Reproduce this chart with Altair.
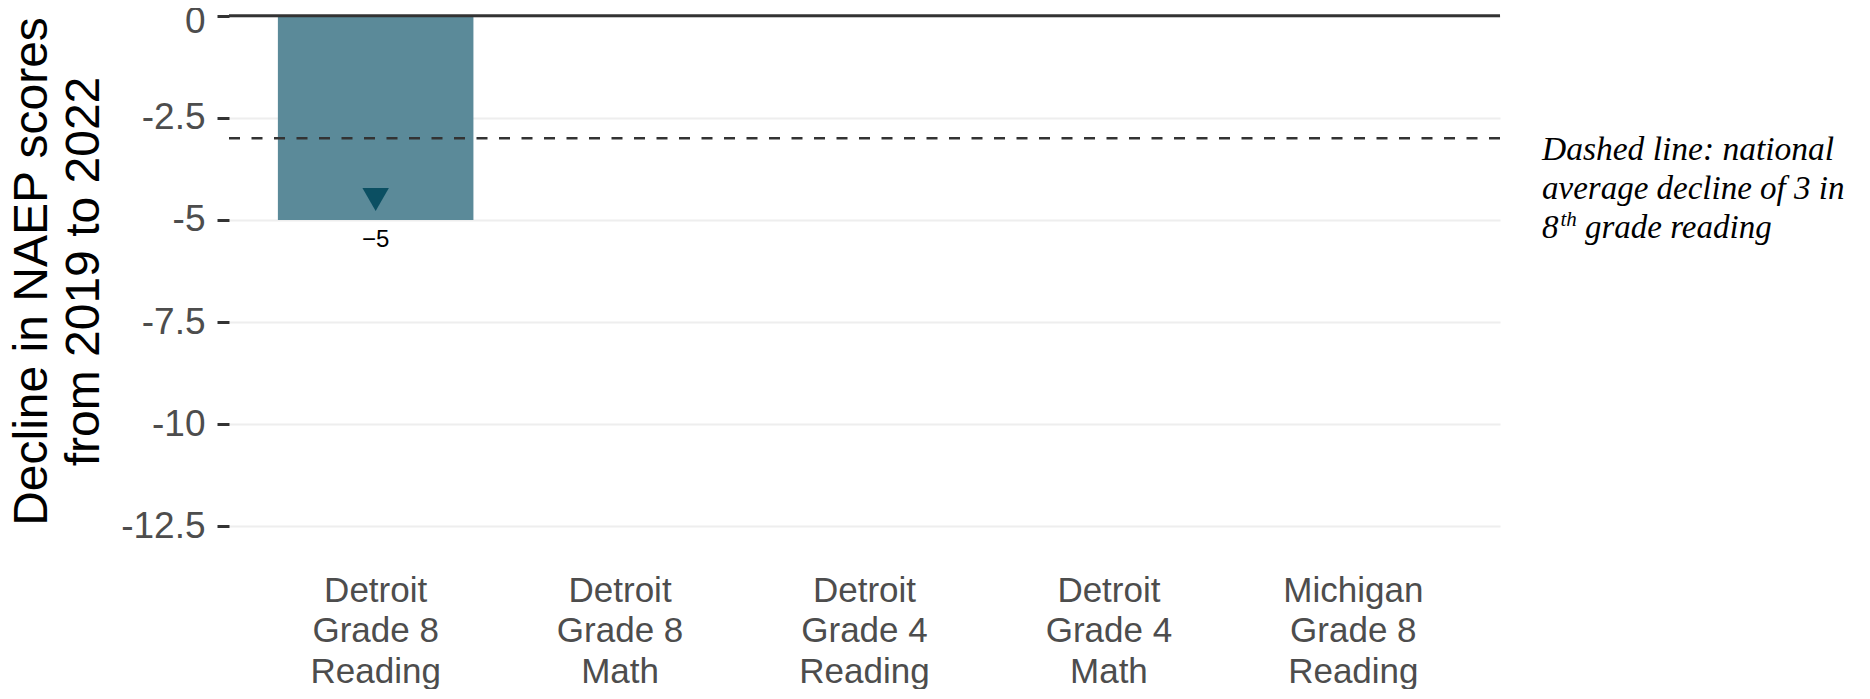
import altair as alt
import pandas as pd

categories = [
    "Detroit|Grade 8|Reading",
    "Detroit|Grade 8|Math",
    "Detroit|Grade 4|Reading",
    "Detroit|Grade 4|Math",
    "Michigan|Grade 8|Reading",
]
declines = [-5, None, None, None, None]
marker_values = [-4.5, None, None, None, None]
value_labels = ["\u22125", None, None, None, None]
national_avg = [-3]
zero_line = [0]
y_ticks = [0, -2.5, -5, -7.5, -10, -12.5]
y_title = ["Decline in NAEP scores", "from 2019 to 2022"]
note_lines = ["Dashed line: national", "average decline of 3 in"]
note_last = ["8", "th", "grade reading"]

bars_df = pd.DataFrame({"category": categories, "decline": declines})
marker_df = pd.DataFrame({"category": categories, "decline": marker_values})
label_df = pd.DataFrame({"category": categories, "decline": declines, "label": value_labels})
avg_df = pd.DataFrame({"decline": national_avg})
zero_df = pd.DataFrame({"decline": zero_line})

xscale = alt.Scale(domain=categories, paddingInner=0.2, paddingOuter=0.2)
xaxis = alt.Axis(
    title=None, labelExpr="split(datum.label, '|')", labelAngle=0, ticks=False,
    tickSize=0, domain=False, grid=False, labelFont="Liberation Sans", labelFontSize=35,
    labelColor="#4D4D4D", labelLineHeight=40.5, labelBaseline="top", labelPadding=10,
    labelAlign="center",
)
yscale = alt.Scale(domain=[-13.4, 0.19], nice=False, zero=False)
yaxis = alt.Axis(
    values=y_ticks, labelExpr="'' + datum.value", title=y_title, titleFont="Liberation Sans",
    titleFontSize=48, titleFontWeight="normal", titleColor="black", titleLineHeight=52,
    titleAngle=270, titleAlign="center", titleBaseline="middle", titleX=-197, titleY=263,
    labelFont="Liberation Sans", labelFontSize=37, labelColor="#4D4D4D", labelPadding=12,
    labelOffset={"condition": {"test": "datum.value === 0", "value": 6}, "value": 0},
    tickSize=12, tickWidth=3, tickColor="#333333", domain=False, grid=True,
    gridColor="#EEEEEE", gridWidth=2,
)


def X():
    return alt.X("category:N", scale=xscale, axis=xaxis)


def Y():
    return alt.Y("decline:Q", scale=yscale, axis=yaxis)


bars = alt.Chart(bars_df).mark_bar(color="#5B8A99").encode(x=X(), y=Y())
zero = alt.Chart(zero_df).mark_rule(color="#333333", strokeWidth=3).encode(y=Y())
avg = alt.Chart(avg_df).mark_rule(color="#333333", strokeWidth=2.5, strokeDash=[11, 11.5]).encode(y=Y())
marker = alt.Chart(marker_df).mark_point(
    shape="triangle-down", filled=True, size=700, color="#0B4F62", opacity=1
).encode(x=X(), y=Y())
labels = alt.Chart(label_df).mark_text(
    dy=20, baseline="middle", fontSize=24, color="black", font="Liberation Sans"
).encode(x=X(), y=Y(), text="label:N")

note_style = dict(font="Liberation Serif", fontStyle="italic", color="black", align="left", baseline="alphabetic")
note1 = alt.Chart(pd.DataFrame({"t": [note_lines[0]]})).mark_text(fontSize=33.5, **note_style).encode(
    text="t:N", x=alt.value(1313), y=alt.value(152))
note2 = alt.Chart(pd.DataFrame({"t": [note_lines[1]]})).mark_text(fontSize=33, **note_style).encode(
    text="t:N", x=alt.value(1313), y=alt.value(191))
note3a = alt.Chart(pd.DataFrame({"t": [note_last[0]]})).mark_text(fontSize=33, **note_style).encode(
    text="t:N", x=alt.value(1313), y=alt.value(230))
note3b = alt.Chart(pd.DataFrame({"t": [note_last[1]]})).mark_text(fontSize=21, **note_style).encode(
    text="t:N", x=alt.value(1331.5), y=alt.value(218))
note3c = alt.Chart(pd.DataFrame({"t": [note_last[2]]})).mark_text(fontSize=33, **note_style).encode(
    text="t:N", x=alt.value(1356), y=alt.value(230))

chart = alt.layer(bars, zero, avg, marker, labels, note1, note2, note3a, note3b, note3c).properties(
    width=1271, height=555,
    padding={"left": 221, "top": 0, "right": 358, "bottom": 126},
    autosize=alt.AutoSizeParams(type="none"),
    background="white",
).configure_view(stroke=None)

chart.save("out.html", embed_options={"renderer": "svg", "actions": False})
